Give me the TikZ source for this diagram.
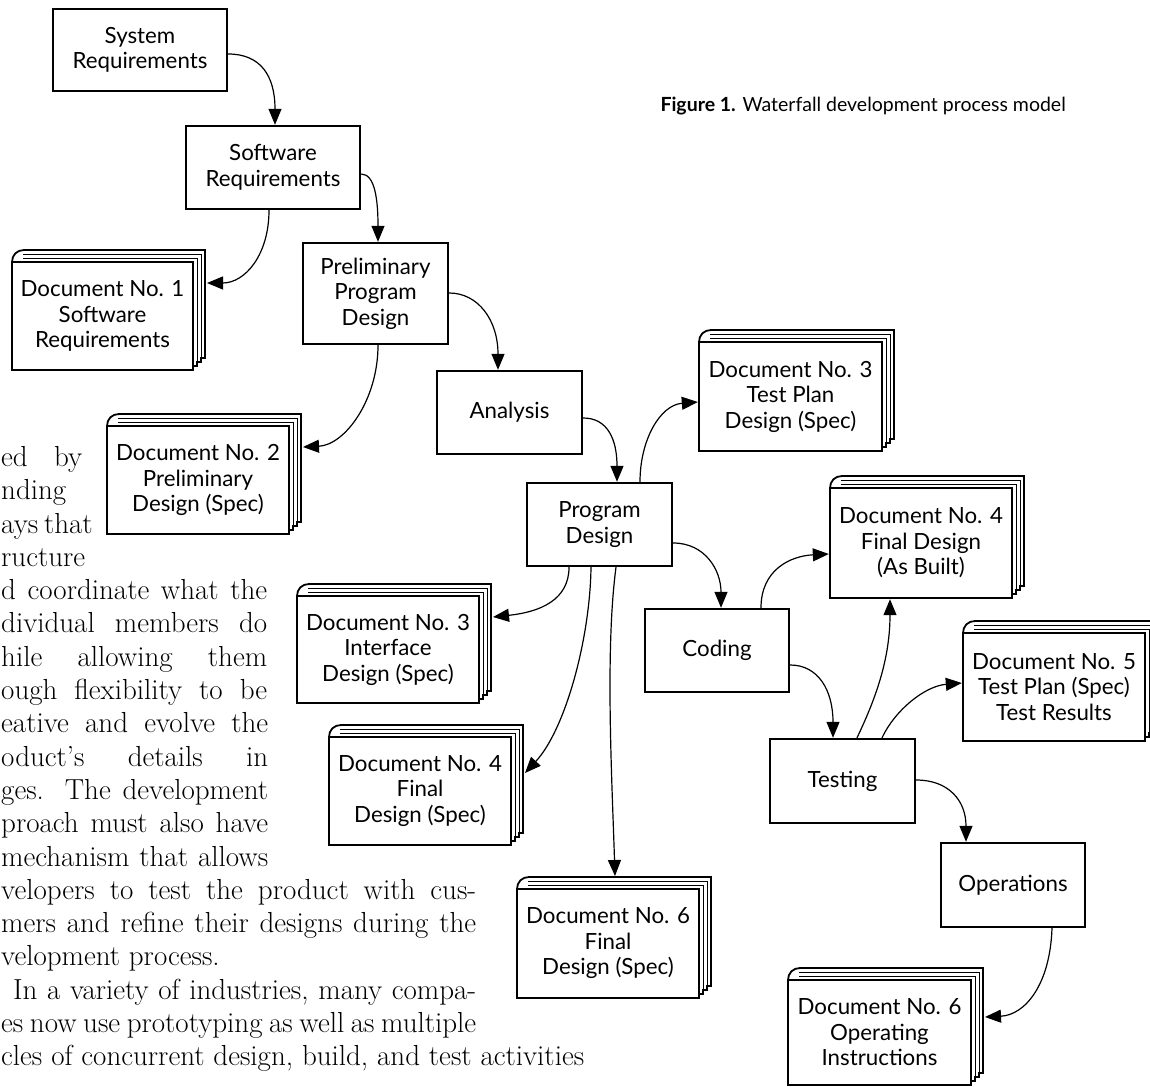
\documentclass[tikz,border=0pt]{standalone}
\usepackage{fontspec}
\newfontfamily\boxfont{Lato}
\usetikzlibrary{arrows.meta}
\tikzset{
  box/.style={draw, line width=2.4pt, fill=white, align=center, inner sep=0pt,
    font=\boxfont\fontsize{22.3}{25.5}\selectfont},
  conn/.style={line width=1.2pt, -{Triangle[length=16pt,width=13pt]}},
  bodyline/.style={anchor=base west, inner sep=0pt, font=\fontsize{29}{33}\selectfont},
  pageouter/.style={fill=white, draw, line width=1.8pt},
  pageinner/.style={draw, line width=0.9pt},
  caption/.style={anchor=base east, inner sep=0pt, font=\boxfont\fontsize{19.5}{24}\selectfont},
}
\newcommand\procbox[6]{%
  \node[box, minimum width={#4-#2}, minimum height={#5-#3}] (#1) at ({(#2+#4)/2},{(#3+#5)/2}) {#6};}
\newcommand\docstack[6]{%
  \path[pageouter] (#2,#3+3) -- (#2,#3) .. controls (#2,#3-7) and (#2+5,#3-12) .. (#2+12,#3-12)
     -- (#4+12,#3-12) -- (#4+12,#5-12) -- (#4+8,#5-12) -- (#4+8,#5-8) -- (#4+4,#5-8) -- (#4+4,#5-4) -- (#4,#5-4);
  \path[pageinner] (#2+11,#3-8) -- (#4+8,#3-8) -- (#4+8,#5-8);
  \path[pageinner] (#2+11,#3-4) -- (#4+4,#3-4) -- (#4+4,#5-4);
  \procbox{#1}{#2}{#3}{#4}{#5}{#6}
  \coordinate (#1-r) at (#4+14,#3);
  \coordinate (#1-t) at (#2,#3-13);
}
\begin{document}
\begin{tikzpicture}[x=1pt,y=-1pt]
\fill[white] (0,0) rectangle (1150,1086);
\useasboundingbox (0,0) rectangle (1150,1086);

% body text (cropped column)
\node[bodyline] (t1) at (1,466) {\makebox[81pt][s]{ed by}};
\node[bodyline] (t2) at (1,499) {nding};
\node[bodyline] (t3) at (1,533) {\makebox[81pt][s]{ays that}};
\node[bodyline] (t4) at (1,566) {ructure};
\node[bodyline] (t5) at (1,599) {\makebox[266pt][s]{d coordinate what the}};
\node[bodyline] (t6) at (1,632) {\makebox[266pt][s]{dividual members do}};
\node[bodyline] (t7) at (1,666) {\makebox[266pt][s]{hile allowing them}};
\node[bodyline] (t8) at (1,699) {\makebox[266pt][s]{ough flexibility to be}};
\node[bodyline] (t9) at (1,732) {\makebox[267pt][s]{eative and evolve the}};
\node[bodyline] (t10) at (1,766) {\makebox[267pt][s]{oduct’s details in}};
\node[bodyline] (t11) at (1,799) {\makebox[267pt][s]{ges. The development}};
\node[bodyline] (t12) at (1,832) {\makebox[267pt][s]{proach must also have}};
\node[bodyline] (t13) at (1,866) {\makebox[267pt][s]{mechanism that allows}};
\node[bodyline] (t14) at (1,899) {\makebox[475pt][s]{velopers to test the product with cus-}};
\node[bodyline] (t15) at (1,932) {\makebox[475pt][s]{mers and refine their designs during the}};
\node[bodyline] (t16) at (1,965) {velopment process.};
\node[bodyline] (t17) at (13,999) {\makebox[463pt][s]{In a variety of industries, many compa-}};
\node[bodyline] (t18) at (1,1032) {\makebox[475pt][s]{es now use prototyping as well as multiple}};
\node[bodyline] (t19) at (1,1065) {\makebox[583pt][s]{cles of concurrent design, build, and test activities}};

% caption
\node[caption] (cap) at (1066,112) {\textbf{Figure 1.} Waterfall development process model};

% process boxes
\procbox{sys}{53}{9}{227}{91}{System\\Requirements}
\procbox{sws}{186}{126}{360}{209}{Software\\Requirements}
\procbox{ppd}{303}{243}{448}{344}{Preliminary\\Program\\Design}
\procbox{ana}{437}{371}{582}{454}{Analysis}
\procbox{pd}{527}{483}{672}{566}{Program\\Design}
\procbox{cod}{645}{609}{789}{692}{Coding}
\procbox{tst}{770}{739}{915}{823}{Testing}
\procbox{ops}{941}{843}{1085}{927}{Operations}

% documents
\docstack{d1}{12}{262}{193}{370}{Document No. 1\\Software\\Requirements}
\docstack{d2}{107}{426}{289}{534}{Document No. 2\\Preliminary\\Design (Spec)}
\docstack{d3t}{699}{342}{882}{451}{Document No. 3\\Test Plan\\Design (Spec)}
\docstack{d3i}{297}{596}{479}{703}{Document No. 3\\Interface\\Design (Spec)}
\docstack{d4f}{329}{737}{511}{845}{Document No. 4\\Final\\Design (Spec)}
\docstack{d4b}{830}{488}{1012}{598}{Document No. 4\\Final Design\\(As Built)}
\docstack{d5}{963}{633}{1145}{741}{Document No. 5\\Test Plan (Spec)\\Test Results}
\docstack{d6f}{517}{889}{699}{998}{Document No. 6\\Final\\Design (Spec)}
\docstack{d6o}{788}{980}{971}{1085}{Document No. 6\\Operating\\Instructions}

% connectors
\draw[conn] (sys.east |- 0,54) .. controls (260,54) and (275,75) .. (sws.north -| 275,0);
\draw[conn] (sws.south -| 269,0) .. controls (269,255) and (245,283) .. (d1-r |- 0,283);
\draw[conn] (sws.east |- 0,174) .. controls (375,174) and (378,200) .. (ppd.north -| 378,0);
\draw[conn] (ppd.south -| 378,0) .. controls (378,400) and (345,445) .. (d2-r |- 0,447);
\draw[conn] (ppd.east |- 0,293) .. controls (478,293) and (498,320) .. (ana.north -| 498,0);
\draw[conn] (ana.east |- 0,418) .. controls (608,418) and (617,440) .. (pd.north -| 617,0);
\draw[conn] (pd.north -| 640,0) .. controls (640,440) and (660,405) .. (d3t.west |- 0,402);
\draw[conn] (pd.south -| 569,0) .. controls (569,600) and (540,612) .. (d3i-r |- 0,617);
\draw[conn] (pd.south -| 591,0) .. controls (590,640) and (565,730) .. (d4f-r |- 0,773);
\draw[conn] (pd.south -| 616,0) .. controls (605,650) and (612,780) .. (d6f-t -| 615,0);
\draw[conn] (pd.east |- 0,543) .. controls (705,543) and (721,570) .. (cod.north -| 721,0);
\draw[conn] (cod.north -| 761,0) .. controls (761,570) and (790,556) .. (d4b.west |- 0,554);
\draw[conn] (cod.east |- 0,665) .. controls (818,665) and (833,690) .. (tst.north -| 833,0);
\draw[conn] (tst.north -| 857,0) .. controls (875,700) and (890,660) .. (d4b.south -| 890,0);
\draw[conn] (tst.north -| 882,0) .. controls (895,710) and (925,686) .. (d5.west |- 0,683);
\draw[conn] (tst.east |- 0,780) .. controls (948,780) and (966,800) .. (ops.north -| 966,0);
\draw[conn] (ops.south -| 1052,0) .. controls (1050,985) and (1025,1015) .. (d6o-r |- 0,1017);
\end{tikzpicture}
\end{document}
